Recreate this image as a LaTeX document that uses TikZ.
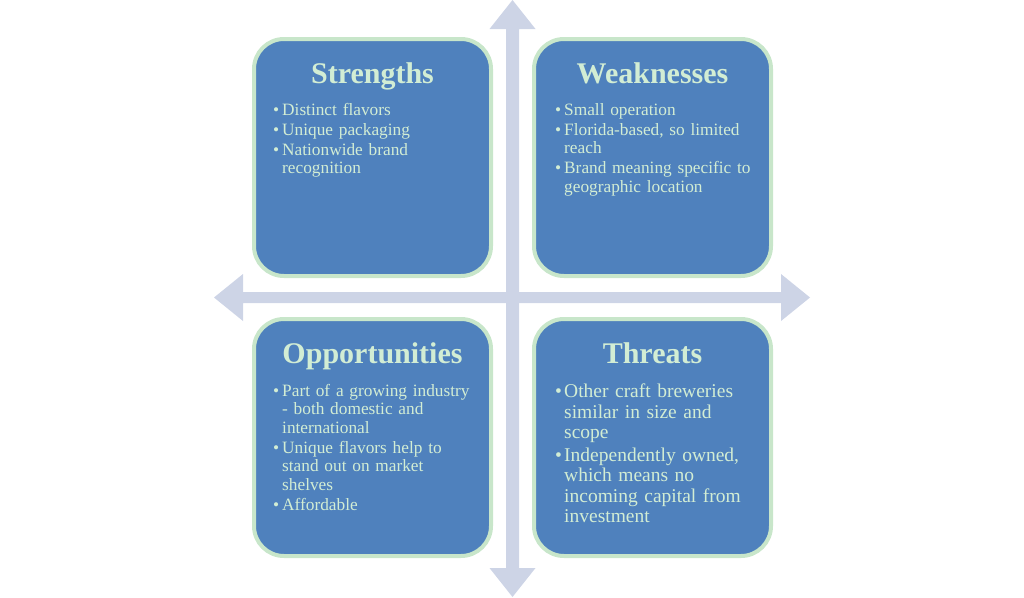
\documentclass[tikz,border=0pt]{standalone}
\usepackage{fontspec}
\setmainfont{Liberation Serif}
\definecolor{boxfill}{HTML}{4F81BD}
\definecolor{boxedge}{HTML}{C8E6CA}
\definecolor{txt}{HTML}{D2EDD4}
\definecolor{arrowc}{HTML}{CDD4E6}
\newcommand\bul[1]{\noindent\hangindent=9pt\hangafter=1\makebox[9pt][l]{•}#1\par}
\tikzset{
  quad/.style={draw=boxedge, line width=4pt, fill=boxfill, rounded corners=30pt,
    minimum width=237pt, minimum height=237pt, inner sep=0pt},
  ttl/.style={text=txt, font=\fontsize{30}{34}\selectfont\bfseries, inner sep=0pt, anchor=base},
  body/.style={text=txt, text width=215pt, inner sep=0pt, anchor=north west, align=left,
    font=\fontsize{17.3}{18.5}\selectfont\setlength{\parskip}{1.5pt}},
  bigbody/.style={body, font=\fontsize{19.5}{20.3}\selectfont\setlength{\parskip}{2.6pt}},
  arr/.style={fill=arrowc, draw=none}
}
\begin{document}
\begin{tikzpicture}[x=1pt,y=-1pt]
\useasboundingbox (0,0) rectangle (1024,597);
% arrows
\fill[arr] (214,297.5) -- (243,274) -- (243,292) -- (781,292) -- (781,274) -- (810,297.5)
  -- (781,321) -- (781,303) -- (243,303) -- (243,321) -- cycle;
\fill[arr] (512.5,0) -- (535.5,29) -- (519,29) -- (519,568) -- (535.5,568) -- (512.5,597)
  -- (489.5,568) -- (506,568) -- (506,29) -- (489.5,29) -- cycle;
% boxes
\node[quad] (s) at (372.5,157.5) {};
\node[quad] (w) at (652.5,157.5) {};
\node[quad] (o) at (372.5,437.5) {};
\node[quad] (t) at (652.5,437.5) {};
% titles
\node[ttl] (st) at (372.5,83) {Strengths};
\node[ttl] (wt) at (652.5,83) {Weaknesses};
\node[ttl] (ot) at (372.5,363) {Opportunities};
\node[ttl] (tt) at (652.5,363) {Threats};
% bodies
\node[body] (sb) at (273,103) {\bul{Distinct flavors}\bul{Unique packaging}\bul{Nationwide brand\newline recognition}};
\node[body] (wb) at (555,103) {\bul{Small operation}\bul{Florida-based, so limited\newline reach}\bul{Brand meaning specific to\newline geographic location}};
\node[body] (ob) at (273,384) {\bul{Part of a growing industry\newline - both domestic and\newline international}\bul{Unique flavors help to\newline stand out on market\newline shelves}\bul{Affordable}};
\node[bigbody] (tb) at (555,384) {\bul{Other craft breweries\newline similar in size and\newline scope}\bul{Independently owned,\newline which means no\newline incoming capital from\newline investment}};
\end{tikzpicture}
\end{document}
